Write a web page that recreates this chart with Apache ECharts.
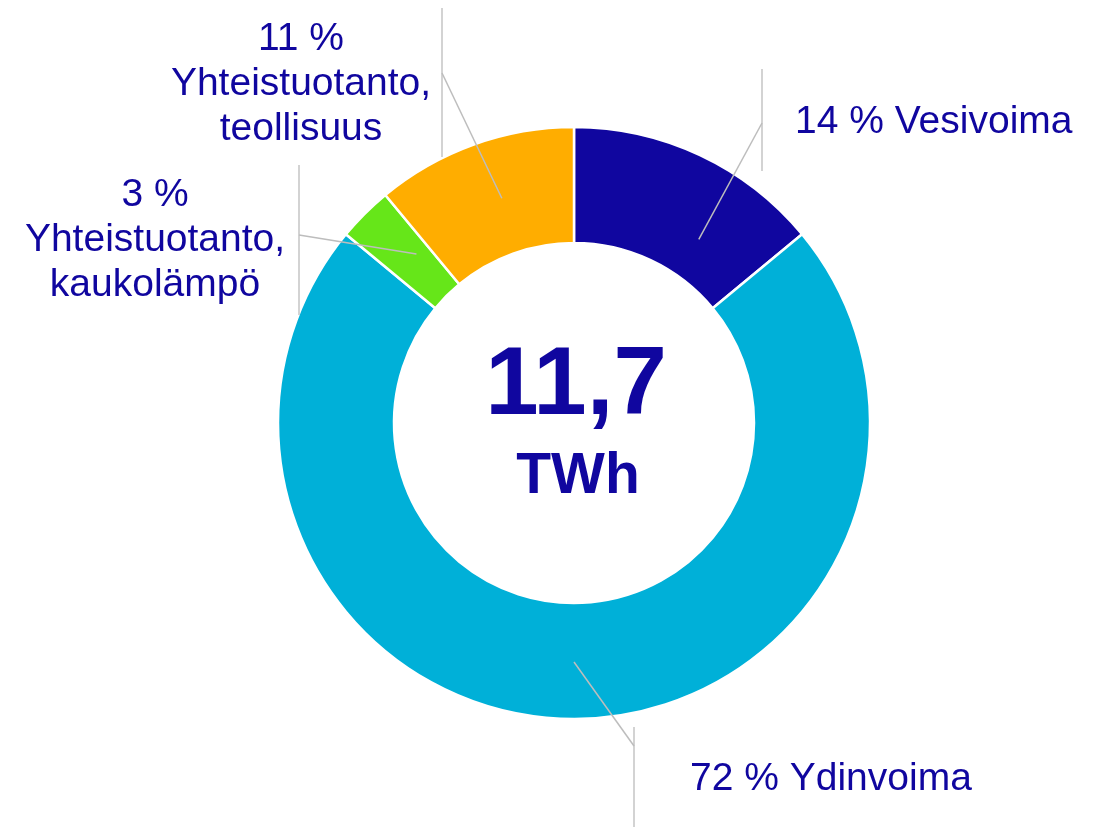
<!DOCTYPE html>
<html>
<head>
<meta charset="utf-8">
<script src="https://cdn.jsdelivr.net/npm/echarts@6/dist/echarts.min.js"></script>
<style>
html,body{margin:0;padding:0;background:#fff;}
#main{width:1101px;height:827px;}
</style>
</head>
<body>
<div id="main"></div>
<script>
// data
var names = ['Vesivoima', 'Ydinvoima', 'Yhteistuotanto,\nkaukolämpö', 'Yhteistuotanto,\nteollisuus'];
var shares = [14, 72, 3, 11];
var total_text = '11,7';
var unit_text = 'TWh';

var colors = ['#10069F', '#00B0D8', '#66E619', '#FFAD00'];
var text_color = '#10069F';
var font = '"Liberation Sans", Arial, sans-serif';

// where each label sits, the little bracket line next to it,
// and how the leader line starts (extra turn in degrees, radius)
var label_pos = [
    {x: 795, y: 122, align: 'left',   elbow: [762, 123], bar: [69, 171],  turn: 9, r: 222},
    {x: 690, y: 779, align: 'left',   elbow: [634, 746], bar: [727, 827], turn: 0, r: 239},
    {x: 155, y: 240, align: 'center', elbow: [299, 235], bar: [165, 315], turn: 2, r: 231},
    {x: 301, y: 84,  align: 'center', elbow: [442, 73],  bar: [8, 157],   turn: 2, r: 236}
];
var cx = 574, cy = 423, r_in = 180, r_out = 296;

$data = names.map(function(n, i){
    return {name: n, value: shares[i], itemStyle: {color: colors[i]}};
});

var sum_all = shares.reduce(function(a, b){ return a + b; }, 0);

//leader line starts inside the ring, near the middle of the slice
function leader_start(i){
    var before = 0;
    for (var k = 0; k < i; k++) before += shares[k];
    var a = (before + shares[i] / 2) / sum_all * 2 * Math.PI + label_pos[i].turn * Math.PI / 180;
    var r = label_pos[i].r;
    return [cx + r * Math.sin(a), cy - r * Math.cos(a)];
}

var graphics = [];
label_pos.forEach(function(p, i){
    graphics.push({
        type: 'line', z: 100,
        shape: {x1: p.elbow[0], y1: p.bar[0], x2: p.elbow[0], y2: p.bar[1]},
        style: {stroke: '#D3D3D3', lineWidth: 2},
        silent: true
    });
    graphics.push({
        type: 'polyline', z: 100,
        shape: {points: [leader_start(i), p.elbow]},
        style: {stroke: '#BDBDBD', lineWidth: 1.5, fill: null},
        silent: true
    });
});
graphics.push({
    type: 'text', x: 576, y: 388,
    style: {text: total_text, fill: text_color, fontSize: 96, fontWeight: 'bold', fontFamily: font, align: 'center', verticalAlign: 'middle'}
});
graphics.push({
    type: 'text', x: 578, y: 477,
    style: {text: unit_text, fill: text_color, fontSize: 57, fontWeight: 'bold', fontFamily: font, align: 'center', verticalAlign: 'middle'}
});

var chart = echarts.init(document.getElementById('main'));
option = {
    animation: false,
    backgroundColor: '#fff',
    graphic: graphics,
    series: [{
        type: 'pie',
        z: 1,
        center: [cx, cy],
        radius: [r_in, r_out],
        startAngle: 90,
        clockwise: true,
        avoidLabelOverlap: false,
        emphasis: {disabled: true},
        itemStyle: {borderColor: '#fff', borderWidth: 2.5},
        label: {
            show: true,
            color: text_color,
            fontSize: 39,
            lineHeight: 45,
            fontFamily: font,
            formatter: function(p){
                var sep = p.name.indexOf('\n') >= 0 ? ' %\n' : ' % ';
                return p.value + sep + p.name;
            }
        },
        labelLine: {show: false},
        labelLayout: function(p){
            var L = label_pos[p.dataIndex];
            return {x: L.x, y: L.y, align: L.align, verticalAlign: 'middle'};
        },
        data: $data
    }]
};
chart.setOption(option);
</script>
</body>
</html>
